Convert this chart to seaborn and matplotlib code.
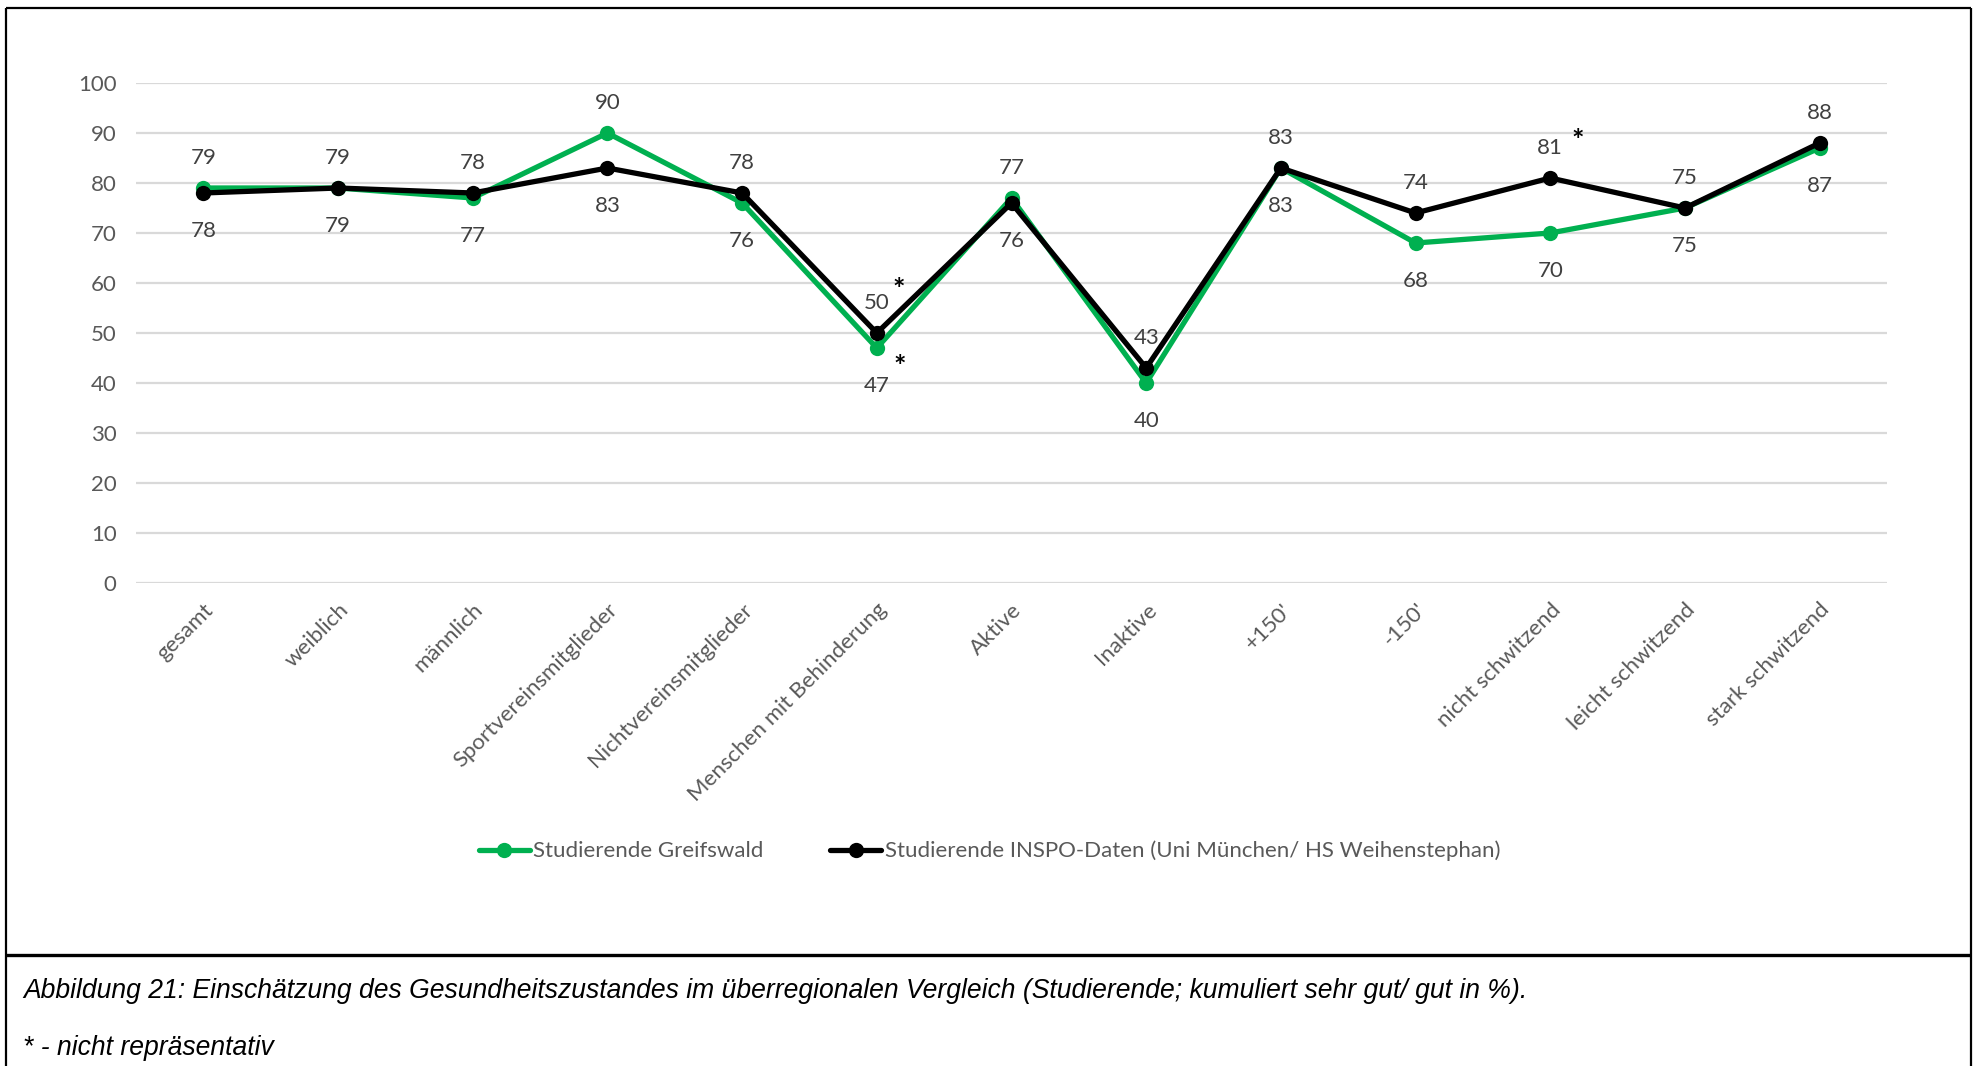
import matplotlib
matplotlib.use("Agg")
import matplotlib.pyplot as plt
import seaborn as sns
import pandas as pd
from matplotlib.lines import Line2D

categories = ["gesamt", "weiblich", "männlich", "Sportvereinsmitglieder",
              "Nichtvereinsmitglieder", "Menschen mit Behinderung", "Aktive",
              "Inaktive", "+150'", "-150'", "nicht schwitzend",
              "leicht schwitzend", "stark schwitzend"]
greifswald = [79, 79, 77, 90, 76, 47, 77, 40, 83, 68, 70, 75, 87]
inspo = [78, 79, 78, 83, 78, 50, 76, 43, 83, 74, 81, 75, 88]
series_names = ["Studierende Greifswald",
                "Studierende INSPO-Daten (Uni München/ HS Weihenstephan)"]
y_ticks = [0, 10, 20, 30, 40, 50, 60, 70, 80, 90, 100]
caption = "Abbildung 21: Einschätzung des Gesundheitszustandes im überregionalen Vergleich (Studierende; kumuliert sehr gut/ gut in %)."
footnote = "* - nicht repräsentativ"

GREEN = "#00B050"
BLACK = "#000000"
TXT = "#595959"
FS = 16

sns.set_theme(style="white")
plt.rcParams["font.family"] = ["Lato", "DejaVu Sans"]

df = pd.DataFrame({
    "Kategorie": categories * 2,
    "Wert": greifswald + inspo,
    "Gruppe": [series_names[0]] * len(categories) + [series_names[1]] * len(categories),
})

fig = plt.figure(figsize=(19.79, 10.66), dpi=100)
ax = fig.add_axes([136 / 1979, 1 - 583 / 1066, (1887 - 136) / 1979, 500 / 1066])

sns.lineplot(data=df, x="Kategorie", y="Wert", hue="Gruppe", sort=False,
             palette=[GREEN, BLACK], marker="o", markersize=11,
             markeredgewidth=0, linewidth=3.8, ax=ax, legend=False)

ax.set_xlim(-0.5, len(categories) - 0.5)
ax.set_ylim(0, 100)
ax.set_yticks(y_ticks)
ax.set_xlabel("")
ax.set_ylabel("")
ax.yaxis.grid(True, color="#D9D9D9", linewidth=1.6)
ax.xaxis.grid(False)
ax.set_axisbelow(True)
for s in ax.spines.values():
    s.set_visible(False)
ax.tick_params(axis="y", length=0, pad=14, labelsize=FS, labelcolor=TXT)
ax.tick_params(axis="x", length=0, pad=12, labelsize=FS, labelcolor=TXT)
ax.set_xticks(range(len(categories)))
ax.set_xticklabels(categories, rotation=45, ha="right", rotation_mode="anchor")

# data labels: higher value above, lower value below
for i, (g, b) in enumerate(zip(greifswald, inspo)):
    if g > b:
        top, bot = g, b
    else:
        top, bot = b, g
    ax.annotate(str(top), (i, top), xytext=(0, 21.5), textcoords="offset points",
                ha="center", va="center", fontsize=FS, color="#404040")
    ax.annotate(str(bot), (i, bot), xytext=(0, -27.5), textcoords="offset points",
                ha="center", va="center", fontsize=FS, color="#404040")

# asterisks (nicht repräsentativ)
star_kw = dict(textcoords="offset points", ha="center", va="center",
               fontsize=21, fontweight="bold", color=BLACK)
ax.annotate("*", (5, inspo[5]), xytext=(15.5, 31), **star_kw)
ax.annotate("*", (5, greifswald[5]), xytext=(16.5, -14), **star_kw)
ax.annotate("*", (10, inspo[10]), xytext=(19.5, 27), **star_kw)

handles = [Line2D([0], [0], color=GREEN, lw=3.8, marker="o", markersize=11, markeredgewidth=0),
           Line2D([0], [0], color=BLACK, lw=3.8, marker="o", markersize=11, markeredgewidth=0)]
leg = fig.legend(handles, series_names, loc="center", bbox_to_anchor=(0.5, 1 - 851 / 1066),
                 ncol=2, frameon=False, fontsize=FS, handlelength=2.3,
                 handletextpad=0.15, columnspacing=3.0)
for t in leg.get_texts():
    t.set_color(TXT)

# frame and separator
fr_kw = dict(transform=fig.transFigure, color="black", solid_capstyle="butt")
fig.add_artist(Line2D([6 / 1979, 1971 / 1979], [1 - 8 / 1066, 1 - 8 / 1066], lw=1.6, **fr_kw))
fig.add_artist(Line2D([6 / 1979, 6 / 1979], [0, 1 - 8 / 1066], lw=1.6, **fr_kw))
fig.add_artist(Line2D([1971 / 1979, 1971 / 1979], [0, 1 - 8 / 1066], lw=1.6, **fr_kw))
fig.add_artist(Line2D([6 / 1979, 1971 / 1979], [1 - 955 / 1066, 1 - 955 / 1066], lw=2.4, **fr_kw))

fig.text(23 / 1979, 1 - 991 / 1066, caption, ha="left", va="center", fontsize=19.1,
         style="italic", family=["Liberation Sans", "DejaVu Sans"], color="black")
fig.text(23 / 1979, 1 - 1048 / 1066, footnote, ha="left", va="center", fontsize=19.1,
         style="italic", family=["Liberation Sans", "DejaVu Sans"], color="black")

fig.savefig("out.png", dpi=100)
